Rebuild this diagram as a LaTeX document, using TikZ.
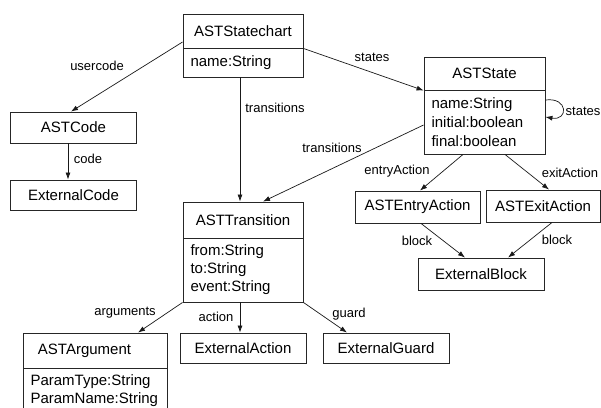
\documentclass[tikz,border=0pt]{standalone}
\usepackage{fontspec}
\setmainfont{Liberation Sans}
\usetikzlibrary{arrows.meta,calc}
\tikzset{
  box/.style={draw=black!85, line width=0.9pt, rectangle, inner sep=0pt, font=\fontsize{15}{18}\selectfont},
  attr/.style={box, align=left, inner xsep=7.5pt, inner ysep=0pt},
  lbl/.style={inner sep=0pt, font=\fontsize{13}{15}\selectfont},
  arr/.style={draw=black!90, line width=0.7pt, -{Latex[length=7pt,width=5pt]}},
}
\begin{document}
\begin{tikzpicture}[x=1pt,y=-1pt]
\useasboundingbox (0,0) rectangle (601,407);
% ASTStatechart
\node[box, minimum width=120pt, minimum height=34pt] (scH) at (243,31) {ASTStatechart};
\node[attr, text width=105pt, minimum height=29pt] (scA) at (243,62.5) {name:String};
% ASTState
\node[box, minimum width=121pt, minimum height=33pt] (stH) at (484.5,73.5) {ASTState};
\node[attr, text width=106pt, minimum height=64pt, font=\fontsize{15}{19}\selectfont] (stA) at (484.5,122) {name:String\\initial:boolean\\final:boolean};
% ASTCode / ExternalCode
\node[box, minimum width=126pt, minimum height=31pt] (code) at (73.5,127.5) {ASTCode};
\node[box, minimum width=126pt, minimum height=30pt] (extcode) at (73.5,195) {ExternalCode};
% ASTTransition
\node[box, minimum width=120pt, minimum height=36pt] (trH) at (243,220) {ASTTransition};
\node[attr, text width=105pt, minimum height=64pt, font=\fontsize{15}{18}\selectfont] (trA) at (243,270) {from:String\\to:String\\event:String};
% ASTEntryAction / ASTExitAction / ExternalBlock
\node[box, minimum width=125pt, minimum height=32pt] (entry) at (417.5,207) {ASTEntryAction};
\node[box, minimum width=114pt, minimum height=32pt] (exit) at (543,206) {ASTExitAction};
\node[box, minimum width=126pt, minimum height=32pt] (blk) at (481,274) {ExternalBlock};
% ASTArgument
\node[box, minimum width=144pt, minimum height=35pt] (argH) at (95,350.5) {};
\node[inner sep=0pt, font=\fontsize{15}{18}\selectfont] (argT) at (84.5,350.5) {ASTArgument};
\node[attr, text width=129pt, minimum height=46pt, font=\fontsize{15}{18}\selectfont] (argA) at (95,391) {ParamType:String\\ParamName:String};
% ExternalAction / ExternalGuard
\node[box, minimum width=126pt, minimum height=30pt] (act) at (243,348) {ExternalAction};
\node[box, minimum width=126pt, minimum height=30pt] (grd) at (386,348) {ExternalGuard};

% connectors
\draw[arr] ([yshift=-11pt]scH.west) -- ([xshift=-2.5pt]code.north);
\draw[arr] ([xshift=-5.5pt]code.south) -- ([xshift=-5.5pt]extcode.north);
\draw[arr] ([xshift=-3pt]scA.south) -- ([xshift=-3pt]trH.north);
\draw[arr] (scH.south east) -- (stH.south west);
\draw[arr] ([yshift=-3pt]stA.west) -- ([xshift=20pt]trH.north);
\draw[arr] ([yshift=22pt]stA.east) .. controls +(23,-3) and +(23,4) .. ([yshift=5pt]stA.east);
\draw[arr] ([xshift=-21.5pt]stA.south) -- ([xshift=2.5pt]entry.north);
\draw[arr] ([xshift=20.5pt]stA.south) -- ([xshift=6pt]exit.north);
\draw[arr] ([xshift=3.5pt]entry.south) -- ([xshift=-16pt]blk.north);
\draw[arr] ([xshift=9pt]exit.south) -- ([xshift=27pt]blk.north);
\draw[arr] (trA.south west) -- ([xshift=43pt]argH.north);
\draw[arr] ([xshift=-3pt]trA.south) -- ([xshift=-3pt]act.north);
\draw[arr] (trA.south east) -- ([xshift=-39pt]grd.north);

% labels
\node[lbl] (l1) at (97,66) {usercode};
\node[lbl] (l2) at (88,159) {code};
\node[lbl] (l3) at (275,108) {transitions};
\node[lbl] (l4) at (372,57) {states};
\node[lbl] (l5) at (332,148) {transitions};
\node[lbl] (l6) at (583,111) {states};
\node[lbl] (l7) at (397,171) {entryAction};
\node[lbl] (l8) at (570,173) {exitAction};
\node[lbl] (l9) at (417,241) {block};
\node[lbl] (l10) at (557,240) {block};
\node[lbl] (l11) at (125,313) {arguments};
\node[lbl] (l12) at (216,317) {action};
\node[lbl] (l13) at (349,314) {guard};
\end{tikzpicture}
\end{document}
